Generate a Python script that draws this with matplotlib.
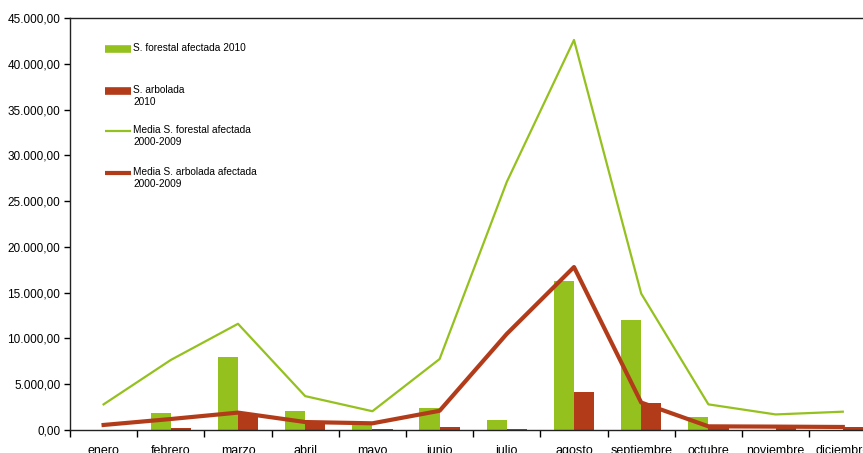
import matplotlib
matplotlib.use("Agg")
import matplotlib.pyplot as plt
import numpy as np
from matplotlib.lines import Line2D
from matplotlib.ticker import FuncFormatter

plt.rcParams['font.family'] = ['Liberation Sans', 'DejaVu Sans']

# Datos
meses = ["enero", "febrero", "marzo", "abril", "mayo", "junio", "julio",
         "agosto", "septiembre", "octubre", "noviembre", "diciembre"]
forestal_2010 = [40, 1900, 8000, 2100, 600, 2400, 1100, 16300, 12000, 1450, 0, 0]
arbolada_2010 = [0, 250, 1800, 950, 100, 330, 150, 4100, 3000, 450, 380, 350]
media_forestal = [2800, 7650, 11600, 3700, 2050, 7750, 27100, 42600, 14900, 2800, 1700, 2000]
media_arbolada = [550, 1200, 1900, 870, 730, 2100, 10500, 17800, 3000, 400, 370, 330]

verde = "#95C11F"
rojo = "#B23C1A"

fig = plt.figure(figsize=(8.63, 4.53), dpi=100)
ax = fig.add_axes([70 / 863, 23 / 453, 806.4 / 863, 412 / 453])

x = np.arange(len(meses))
w = 0.3
ax.bar(x - w / 2, forestal_2010, width=w, color=verde, zorder=2)
ax.bar(x + w / 2, arbolada_2010, width=w, color=rojo, zorder=2)
ax.plot(x, media_forestal, color=verde, lw=1.6, zorder=3)
ax.plot(x, media_arbolada, color=rojo, lw=3, zorder=4)

ax.set_xlim(-0.5, 11.5)
ax.set_ylim(0, 45000)
ax.set_yticks(np.arange(0, 45001, 5000))
ax.yaxis.set_major_formatter(FuncFormatter(
    lambda v, p: "{:,.2f}".format(v).replace(",", "X").replace(".", ",").replace("X", ".")))
ax.tick_params(axis="y", labelsize=8.5, length=4, width=1, pad=3)

ax.set_xticks(x)
ax.set_xticklabels(meses, fontsize=9)
ax.set_xticks(np.arange(-0.5, 12, 1), minor=True)
ax.tick_params(axis="x", which="major", length=0, pad=11)
ax.tick_params(axis="x", which="minor", length=5, width=1)

ax.spines["right"].set_visible(False)
for s in ["left", "bottom", "top"]:
    ax.spines[s].set_linewidth(1)
    ax.spines[s].set_color("#222222")

# leyenda dibujada a mano
def fy(py):
    return 1 - py / 453

def fx(px):
    return px / 863

entradas = [
    ("bar", verde, 49, "S. forestal afectada 2010"),
    ("bar", rojo, 91, "S. arbolada\n2010"),
    ("line", verde, 131, "Media S. forestal afectada\n2000-2009"),
    ("line", rojo, 173, "Media S. arbolada afectada\n2000-2009"),
]
for tipo, col, py, txt in entradas:
    lw = 5.5 if tipo == "bar" else (1.6 if col == verde else 3)
    fig.add_artist(Line2D([fx(105), fx(131)], [fy(py), fy(py)], color=col,
                          lw=lw, solid_capstyle="butt", transform=fig.transFigure))
    fig.text(fx(133), fy(py - 6), txt, fontsize=7.3, va="top", ha="left",
             linespacing=1.3)

fig.savefig("out.png", dpi=100)
